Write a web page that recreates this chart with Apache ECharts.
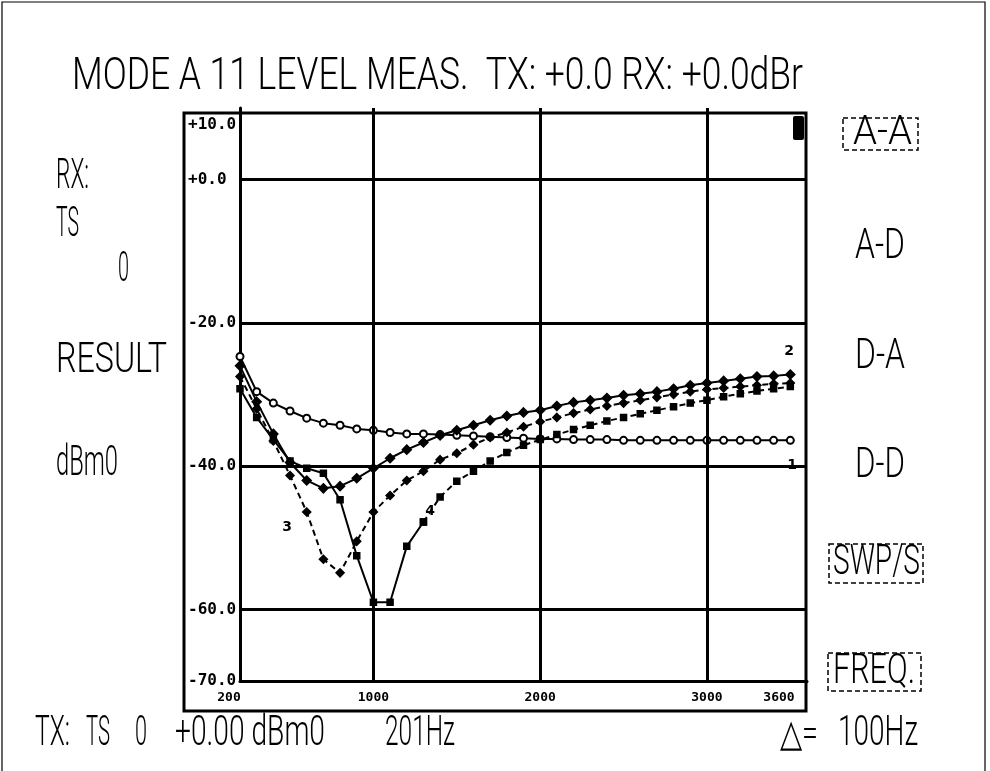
<!DOCTYPE html>
<html>
<head>
<meta charset="utf-8">
<script src="https://cdn.jsdelivr.net/npm/echarts@6/dist/echarts.min.js"></script>
<style>
html, body { margin: 0; padding: 0; background: #fff; }
#main { width: 990px; height: 771px; }
</style>
</head>
<body>
<div id="main"></div>
<script>
// frequency points, 100 Hz step
var freqs = [200, 300, 400, 500, 600, 700, 800, 900, 1000, 1100, 1200, 1300, 1400, 1500, 1600, 1700,
	1800, 1900, 2000, 2100, 2200, 2300, 2400, 2500, 2600, 2700, 2800, 2900, 3000, 3100, 3200, 3300, 3400, 3500];

// level in dBm0
var curve1 = [-24.7, -29.6, -31.2, -32.3, -33.3, -34.0, -34.3, -34.8, -35.0, -35.3, -35.5, -35.5, -35.6, -35.7,
	-35.8, -35.9, -36.0, -36.1, -36.2, -36.2, -36.3, -36.3, -36.3, -36.4, -36.4, -36.4, -36.4, -36.4, -36.4,
	-36.4, -36.4, -36.4, -36.4, -36.4];
var curve2 = [-26.0, -31.0, -35.5, -39.5, -42.0, -43.1, -42.8, -41.7, -40.3, -38.9, -37.7, -36.7, -35.7, -35.0,
	-34.3, -33.6, -33.0, -32.5, -32.2, -31.6, -31.1, -30.8, -30.5, -30.1, -29.9, -29.6, -29.2, -28.7, -28.4,
	-28.1, -27.8, -27.5, -27.4, -27.2];
var curve3 = [-27.5, -32.0, -36.5, -41.3, -46.4, -53.0, -54.9, -50.5, -46.4, -44.1, -42.0, -40.7, -39.1, -38.2,
	-37.0, -36.0, -35.3, -34.5, -33.8, -33.2, -32.6, -32.1, -31.6, -31.2, -30.8, -30.4, -30.0, -29.6, -29.3,
	-29.1, -28.9, -28.7, -28.5, -28.4];
var curve4 = [-29.2, -33.2, -36.3, -39.3, -40.3, -41.0, -44.7, -52.5, -59.0, -59.0, -51.2, -47.8, -44.3, -42.1,
	-40.7, -39.3, -38.1, -37.1, -36.3, -35.6, -34.9, -34.3, -33.7, -33.2, -32.7, -32.2, -31.7, -31.2, -30.8,
	-30.3, -29.9, -29.5, -29.2, -28.9];
var curve4SolidEnd = 11; // index where curve 4 turns dashed

var xLabelValues = [200, 1000, 2000, 3000, 3600];
var yLabelValues = [10, 0, -20, -40, -60, -70];
var xGridValues = [1000, 2000, 3000];
var yGridValues = [0, -20, -40, -60];

var TXT_FONT = 'Roboto, "DejaVu Sans", sans-serif';
var measureCtx = document.createElement('canvas').getContext('2d');

// text squeezed to fit between left and right, like the plotter font
function fitText(str, left, right, cy, size) {
	measureCtx.font = '300 ' + size + 'px ' + TXT_FONT;
	var w = measureCtx.measureText(str).width;
	return {
		type: 'text', silent: true, x: left, y: cy, scaleX: (right - left) / w,
		style: { text: str, fontSize: size, fontWeight: 300, fontFamily: TXT_FONT, fill: '#000',
			align: 'left', verticalAlign: 'middle' }
	};
}

function box(x, y, w, h) {
	return {
		type: 'rect', silent: true, shape: { x: x, y: y, width: w, height: h },
		style: { fill: null, stroke: '#000', lineWidth: 1.5, lineDash: [5, 3] }
	};
}

function curveNo(str, x, y) {
	return {
		type: 'text', silent: true, x: x, y: y,
		style: { text: str, fontFamily: 'DejaVu Sans', fontWeight: 'bold', fontSize: 14, fill: '#000',
			backgroundColor: '#fff', padding: [1, 2], align: 'center', verticalAlign: 'middle' }
	};
}

function pairs(values, from, to) {
	var out = [];
	for (var i = from; i < to; i++) {
		out.push([freqs[i], values[i]]);
	}
	return out;
}

function lineSeries(name, data, symbol, size, dashed) {
	return {
		name: name, type: 'line', data: data, symbol: symbol, symbolSize: size,
		showSymbol: true, silent: true, z: 3,
		lineStyle: { color: '#000', width: 2, type: dashed ? [6, 4] : 'solid' },
		itemStyle: { color: '#000', borderColor: '#000', borderWidth: 1.5 }
	};
}

var myChart = echarts.init(document.getElementById('main'));

var gridLines = [];
for (var i = 0; i < yGridValues.length; i++) gridLines.push({ yAxis: yGridValues[i] });
for (var j = 0; j < xGridValues.length; j++) gridLines.push({ xAxis: xGridValues[j] });

var s1 = lineSeries('1', pairs(curve1, 0, freqs.length), 'emptyCircle', 7, false);
s1.itemStyle = { color: '#000', borderWidth: 2 };
s1.markLine = {
	silent: true, symbol: 'none', animation: false,
	label: { show: false },
	lineStyle: { color: '#000', width: 3, type: 'solid' },
	data: gridLines
};

var axisFont = { fontFamily: 'DejaVu Sans Mono', fontWeight: 'bold', color: '#000' };

var option = {
	animation: false,
	backgroundColor: '#fff',
	grid: { left: 240, right: 183, top: 108, bottom: 90 },
	xAxis: {
		type: 'value', min: 200, max: 3600,
		axisLine: { show: true, onZero: false, lineStyle: { color: '#000', width: 3 } },
		axisTick: { show: false },
		splitLine: { show: false },
		axisLabel: {
			customValues: xLabelValues, margin: 10, color: '#000',
			fontFamily: axisFont.fontFamily, fontWeight: 'bold', fontSize: 13,
			formatter: function(v) {
				if (v === 200) return '{l|' + v + '}';
				if (v === 3600) return '{r|' + v + '}';
				return String(v);
			},
			rich: {
				l: { padding: [0, 22, 0, 0], fontFamily: axisFont.fontFamily, fontWeight: 'bold', fontSize: 13, color: '#000' },
				r: { padding: [0, 56, 0, 0], fontFamily: axisFont.fontFamily, fontWeight: 'bold', fontSize: 13, color: '#000' }
			}
		}
	},
	yAxis: {
		type: 'value', min: -70, max: 10,
		axisLine: { show: true, onZero: false, lineStyle: { color: '#000', width: 3 } },
		axisTick: { show: false },
		splitLine: { show: false },
		axisLabel: {
			customValues: yLabelValues, margin: 52, align: 'left', color: '#000',
			fontFamily: axisFont.fontFamily, fontWeight: 'bold', fontSize: 16,
			formatter: function(v) {
				var s = (v >= 0 ? '+' : '') + v.toFixed(1);
				if (v === 10) return '{t|' + s + '}';
				return s;
			},
			rich: {
				t: { padding: [34, 0, 0, 0], fontFamily: axisFont.fontFamily, fontWeight: 'bold', fontSize: 16, color: '#000' }
			}
		}
	},
	series: [
		s1,
		lineSeries('2', pairs(curve2, 0, freqs.length), 'diamond', 9, false),
		lineSeries('3', pairs(curve3, 0, freqs.length), 'diamond', 8, true),
		lineSeries('4', pairs(curve4, 0, curve4SolidEnd + 1), 'rect', 6, false),
		lineSeries('4', pairs(curve4, curve4SolidEnd, freqs.length), 'rect', 6, true)
	],
	graphic: [
		// page border
		{ type: 'rect', silent: true, shape: { x: 2, y: 2, width: 983, height: 780 },
			style: { fill: null, stroke: '#000', lineWidth: 1.2 } },
		// plot frame
		{ type: 'rect', silent: true, shape: { x: 184, y: 113, width: 622, height: 598 },
			style: { fill: null, stroke: '#000', lineWidth: 3 } },
		// little status block top right of the plot
		{ type: 'rect', silent: true, shape: { x: 793, y: 116, width: 11, height: 24, r: 2 },
			style: { fill: '#000' } },
		fitText('MODE A 11 LEVEL MEAS.  TX: +0.0 RX: +0.0dBr', 72, 803, 78, 44),
		fitText('RX:', 56, 89, 177, 42),
		fitText('TS', 56, 79, 225, 42),
		fitText('0', 118, 129, 270, 42),
		fitText('RESULT', 56, 167, 361, 42),
		fitText('dBm0', 56, 118, 464, 42),
		fitText('A-A', 853, 912, 134, 40),
		box(843, 118, 75, 32),
		fitText('A-D', 855, 905, 247, 42),
		fitText('D-A', 855, 905, 357, 42),
		fitText('D-D', 855, 905, 466, 42),
		fitText('SWP/S', 833, 920, 563, 42),
		box(829, 544, 94, 39),
		fitText('FREQ.', 833, 915, 672, 42),
		box(828, 653, 93, 38),
		fitText('TX:', 35, 70, 734, 42),
		fitText('TS', 86, 110, 734, 42),
		fitText('0', 135, 147, 734, 42),
		fitText('+0.00 dBm0', 175, 325, 734, 42),
		fitText('201Hz', 385, 455, 734, 42),
		fitText('\u25b3=', 780, 818, 736, 38),
		fitText('100Hz', 838, 918, 734, 42),
		// curve numbers
		curveNo('1', 792, 465),
		curveNo('2', 789, 351),
		curveNo('3', 287, 527),
		curveNo('4', 430, 511)
	]
};
myChart.setOption(option);
</script>
</body>
</html>
